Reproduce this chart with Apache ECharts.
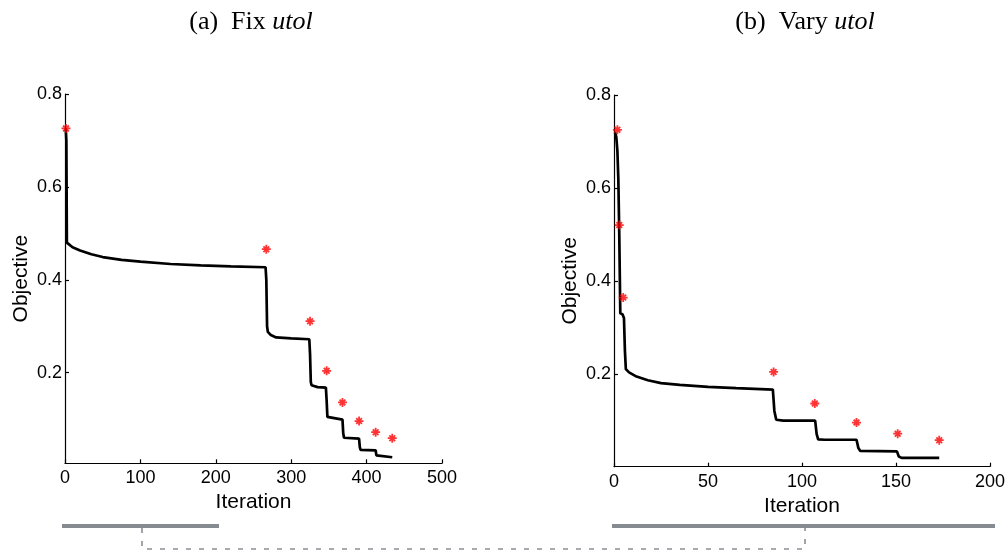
<!DOCTYPE html>
<html>
<head>
<meta charset="utf-8">
<script src="https://cdn.jsdelivr.net/npm/echarts@6/dist/echarts.min.js"></script>
<style>html,body{margin:0;padding:0;background:#fff;}#c{width:1008px;height:550px;}</style>
</head>
<body>
<div id="c"></div>
<script>
// ---- data ----
const leftLineX = [1, 1.8, 2.5, 5, 10, 20, 35, 50, 75, 100, 140, 180, 220, 266, 267, 268, 269, 273, 280, 300, 324, 325, 326, 327, 335, 346, 347, 348, 350, 368, 369, 370, 390, 391, 392, 412, 413, 414, 434];
const leftLineY = [0.726, 0.70, 0.48, 0.476, 0.470, 0.463, 0.455, 0.449, 0.443, 0.439, 0.434, 0.431, 0.429, 0.427, 0.40, 0.30, 0.288, 0.281, 0.276, 0.274, 0.272, 0.24, 0.18, 0.173, 0.169, 0.168, 0.14, 0.105, 0.101, 0.099, 0.07, 0.060, 0.058, 0.04, 0.034, 0.033, 0.022, 0.019, 0.018];
const leftStarX = [1.3, 267, 325, 347, 368, 390, 412, 434];
const leftStarY = [0.726, 0.466, 0.311, 0.204, 0.136, 0.096, 0.072, 0.059];

const rightLineX = [0.5, 1.2, 1.8, 2.3, 2.8, 3.35, 4.5, 5.3, 5.8, 6.3, 8, 12, 18, 25, 35, 50, 65, 84.5, 85.3, 86.3, 90, 107, 107.8, 108.6, 112, 129, 130, 131, 150.5, 151.5, 153, 173];
const rightLineY = [0.72, 0.71, 0.68, 0.62, 0.50, 0.33, 0.328, 0.32, 0.25, 0.21, 0.203, 0.194, 0.186, 0.180, 0.176, 0.172, 0.169, 0.166, 0.12, 0.101, 0.099, 0.099, 0.07, 0.059, 0.058, 0.058, 0.04, 0.034, 0.033, 0.022, 0.019, 0.019];
const rightStarX = [1.8, 2.8, 4.9, 84.9, 106.8, 129, 150.9, 173];
const rightStarY = [0.725, 0.52, 0.364, 0.204, 0.136, 0.095, 0.071, 0.057];

const yTickValues = [0.2, 0.4, 0.6, 0.8];
const titles = [['(a)  Fix ', 'utol'], ['(b)  Vary ', 'utol']];
const xAxisName = 'Iteration';
const yAxisName = 'Objective';

// ---- helpers ----
const zip = (xs, ys) => xs.map((x, i) => [x, ys[i]]);
const starPath = 'path://M0,4L10,4L10,6L0,6Z M4,0L6,0L6,10L4,10Z M1.1,2.5L2.5,1.1L8.9,7.5L7.5,8.9Z M7.5,1.1L8.9,2.5L2.5,8.9L1.1,7.5Z';
const sans = 'Liberation Sans';

function xAxisCfg(idx, max, interval) {
  return {
    type: 'value', gridIndex: idx, min: 0, max: max, interval: interval,
    name: xAxisName, nameLocation: 'middle', nameGap: 16,
    nameTextStyle: { fontFamily: sans, fontSize: 21, color: '#000' },
    axisLine: { show: true, onZero: false, lineStyle: { color: '#000', width: 1.2 } },
    axisTick: { show: true, inside: true, length: 4, lineStyle: { color: '#000', width: 1.2 } },
    axisLabel: { color: '#000', fontFamily: sans, fontSize: 18, margin: 6 },
    splitLine: { show: false }
  };
}
function yAxisCfg(idx, min) {
  return {
    type: 'value', gridIndex: idx, min: min, max: 0.8,
    name: yAxisName, nameLocation: 'middle', nameGap: 33,
    nameTextStyle: { fontFamily: sans, fontSize: 21, color: '#000' },
    axisLine: { show: true, onZero: false, lineStyle: { color: '#000', width: 1.2 } },
    axisTick: { show: true, inside: true, length: 4, customValues: yTickValues, lineStyle: { color: '#000', width: 1.2 } },
    axisLabel: { color: '#000', fontFamily: sans, fontSize: 18, margin: 3, customValues: yTickValues,
      formatter: v => v.toFixed(1) },
    splitLine: { show: false }
  };
}
function lineSeries(idx, data) {
  return { type: 'line', xAxisIndex: idx, yAxisIndex: idx, data: data, showSymbol: false, symbol: 'none',
    lineStyle: { color: '#000', width: 2.7 }, silent: true, z: 2, animation: false };
}
function starSeries(idx, data) {
  return { type: 'scatter', xAxisIndex: idx, yAxisIndex: idx, data: data, symbol: starPath, symbolSize: 9,
    itemStyle: { color: '#ff0000' }, z: 3, animation: false };
}

const chart = echarts.init(document.getElementById('c'), null, { renderer: 'canvas' });
chart.setOption({
  animation: false,
  backgroundColor: '#fff',
  title: titles.map((t, i) => ({
    text: '{n|' + t[0] + '}{i|' + t[1] + '}',
    left: i === 0 ? 246 : 800, top: 4, textAlign: 'center',
    textStyle: { fontWeight: 'normal', rich: {
      n: { fontFamily: 'Liberation Serif', fontSize: 26, fontWeight: 'normal', color: '#000' },
      i: { fontFamily: 'Liberation Serif', fontSize: 26, fontWeight: 'normal', fontStyle: 'italic', color: '#000' }
    } }
  })),
  grid: [
    { left: 65, top: 94, width: 377, bottom: 86.7 },
    { left: 614, top: 95, width: 378, bottom: 83.3 }
  ],
  xAxis: [xAxisCfg(0, 500, 100), xAxisCfg(1, 200, 50)],
  yAxis: [yAxisCfg(0, 0.005), yAxisCfg(1, 0)],
  series: [
    lineSeries(0, zip(leftLineX, leftLineY)),
    starSeries(0, zip(leftStarX, leftStarY)),
    lineSeries(1, zip(rightLineX, rightLineY)),
    starSeries(1, zip(rightStarX, rightStarY))
  ],
  graphic: [
    { type: 'line', shape: { x1: 62, y1: 526, x2: 219, y2: 526 }, style: { stroke: '#868b91', lineWidth: 4 } },
    { type: 'line', shape: { x1: 612, y1: 526, x2: 995, y2: 526 }, style: { stroke: '#868b91', lineWidth: 4 } },
    { type: 'polyline', shape: { points: [[142, 528], [142, 549], [805, 549], [805, 528]] },
      style: { stroke: '#8a8f95', lineWidth: 1.6, fill: null, lineDash: [5, 8] } }
  ]
});
</script>
</body>
</html>
